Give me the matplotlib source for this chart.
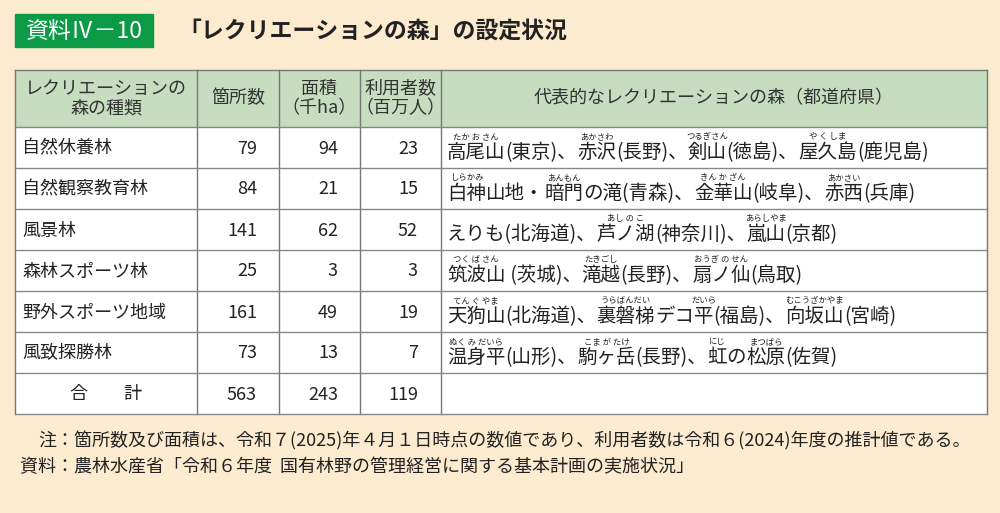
import matplotlib
matplotlib.use("Agg")
import matplotlib.pyplot as plt
from matplotlib.patches import Rectangle

plt.rcParams['font.family'] = ['Noto Sans CJK JP', 'DejaVu Sans']

types = ["自然休養林", "自然観察教育林", "風景林", "森林スポーツ林", "野外スポーツ地域", "風致探勝林"]
counts = [79, 84, 141, 25, 161, 73]
areas = [94, 21, 62, 3, 49, 13]
users = [23, 15, 52, 3, 19, 7]
total = ["563", "243", "119"]
examples = [
    [("高尾山", "たか お さん"), ("(東京)、", None), ("赤沢", "あかさわ"), ("(長野)、", None), ("剣山", "つるぎさん"), ("(徳島)、", None), ("屋久島", "や く しま"), ("(鹿児島)", None)],
    [("白神", "しらかみ"), ("山地・", None), ("暗門", "あんもん"), ("の滝(青森)、", None), ("金華山", "きん か ざん"), ("(岐阜)、", None), ("赤西", "あかさい"), ("(兵庫)", None)],
    [("えりも(北海道)、", None), ("芦ノ湖", "あし の こ"), ("(神奈川)、", None), ("嵐山", "あらしやま"), ("(京都)", None)],
    [("筑波山", "つく ば さん"), (" (茨城)、", None), ("滝越", "たきごし"), ("(長野)、", None), ("扇ノ仙", "おうぎ の せん"), ("(鳥取)", None)],
    [("天狗山", "てん ぐ やま"), ("(北海道)、", None), ("裏磐梯", "うらばんだい"), ("デコ", None), ("平", "だいら"), ("(福島)、", None), ("向坂山", "むこうざかやま"), ("(宮崎)", None)],
    [("温身平", "ぬく み だいら"), ("(山形)、", None), ("駒ヶ岳", "こま が たけ"), ("(長野)、", None), ("虹", "にじ"), ("の", None), ("松原", "まつばら"), ("(佐賀)", None)],
]

fig = plt.figure(figsize=(10, 5.13), dpi=100)
fig.patch.set_facecolor('#FCEBCF')
ax = fig.add_axes([0, 0, 1, 1])
ax.set_xlim(0, 1000); ax.set_ylim(513, 0); ax.axis('off')

ax.add_patch(Rectangle((15, 14), 138, 33, color='#0C9A47'))
ax.text(84, 31, "資料Ⅳ－10", color='white', fontsize=16.5, ha='center', va='center')
ax.text(178, 31, "「レクリエーションの森」の設定状況", fontsize=16.5, fontweight='bold', ha='left', va='center', color='#222')

cols = [15, 197, 279, 360, 441, 987]
top, hb = 70, 127
rh = 41
nrows = len(types) + 1
bottom = hb + rh * nrows
ax.add_patch(Rectangle((cols[0], top), cols[-1]-cols[0], hb-top, facecolor='#C6DDBF', edgecolor='none'))
ax.add_patch(Rectangle((cols[0], hb), cols[-1]-cols[0], bottom-hb, facecolor='white', edgecolor='none'))
for x in cols:
    ax.plot([x, x], [top, bottom], color='#777', lw=1)
for i in range(nrows + 1):
    y = hb + rh * i
    ax.plot([cols[0], cols[-1]], [y, y], color='#888', lw=1)
ax.plot([cols[0], cols[-1]], [top, top], color='#777', lw=1)

hy = (top + hb) / 2
fs = 13
ax.text((cols[0]+cols[1])/2, hy, "レクリエーションの\n森の種類", ha='center', va='center', fontsize=fs, color='#333', linespacing=1.1)
ax.text((cols[1]+cols[2])/2, hy, "箇所数", ha='center', va='center', fontsize=fs, color='#333')
ax.text((cols[2]+cols[3])/2, hy, "面積\n（千ha）", ha='center', va='center', fontsize=fs, color='#333', linespacing=1.1)
ax.text((cols[3]+cols[4])/2, hy, "利用者数\n（百万人）", ha='center', va='center', fontsize=fs, color='#333', linespacing=1.1)
ax.text((cols[4]+cols[5])/2, hy, "代表的なレクリエーションの森（都道府県）", ha='center', va='center', fontsize=fs, color='#333')

fig.canvas.draw()
r = fig.canvas.get_renderer()
for i, t in enumerate(types):
    yc = hb + rh * i + rh / 2 + 1
    ax.text(22, yc, t, va='center', fontsize=fs, color='#222')
    ax.text(257, yc, str(counts[i]), ha='right', va='center', fontsize=fs, color='#222')
    ax.text(338, yc, str(areas[i]), ha='right', va='center', fontsize=fs, color='#222')
    ax.text(418, yc, str(users[i]), ha='right', va='center', fontsize=fs, color='#222')
    xc = 447
    for base, ruby in examples[i]:
        tx = ax.text(xc, yc + 4, base, va='center', ha='left', fontsize=14, color='#222')
        w = tx.get_window_extent(r).width
        if ruby:
            ax.text(xc + w / 2, yc - 12, ruby, ha='center', va='center', fontsize=6, color='#222')
        xc += w
yc = hb + rh * 6 + rh / 2 + 1
ax.text((cols[0]+cols[1])/2, yc, "合　　計", ha='center', va='center', fontsize=fs, color='#222')
for x, v in zip([257, 338, 418], total):
    ax.text(x, yc, v, ha='right', va='center', fontsize=fs, color='#222')

ax.text(38, 441, "注：箇所数及び面積は、令和７(2025)年４月１日時点の数値であり、利用者数は令和６(2024)年度の推計値である。", fontsize=13, va='center', color='#222')
ax.text(20, 467, "資料：農林水産省「令和６年度  国有林野の管理経営に関する基本計画の実施状況」", fontsize=13, va='center', color='#222')

fig.savefig("out.png", dpi=100, facecolor=fig.get_facecolor())
